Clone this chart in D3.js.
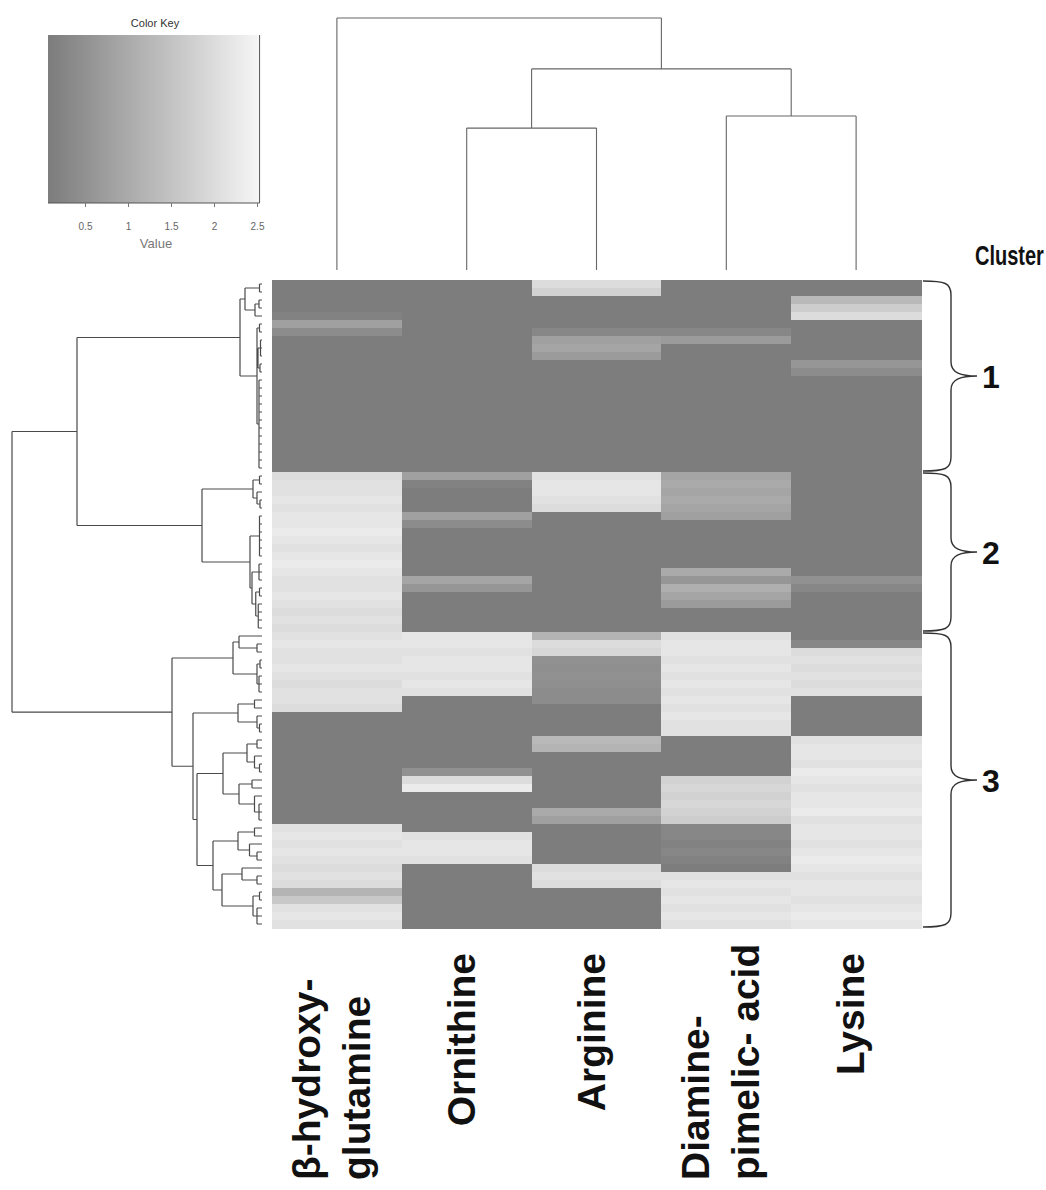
<!DOCTYPE html>
<html><head><meta charset="utf-8">
<script src="https://cdn.jsdelivr.net/npm/d3@7"></script>
<style>body{margin:0;background:#fff}</style>
</head><body>
<svg id="chart" width="1046" height="1190"></svg>
<script>
// ---------- DATA ----------
const columns = ["β-hydroxy-glutamine", "Ornithine", "Arginine", "Diamine-pimelic-acid", "Lysine"];
const columnLabelLines = [["β-hydroxy-", "glutamine"], ["Ornithine"], ["Arginine"], ["Diamine-", "pimelic- acid"], ["Lysine"]];

// one value per heatmap row (81 rows, top to bottom), per column
const betaHydroxyGlutamine = [
  0.1,0.1,0.1,0.1,0.2, 0.8,0.4, 0.1,0.1,0.1,0.1,0.1,0.1,0.1,0.1,0.1,0.1,0.1,0.1,0.1,0.1,0.1,0.1,0.1,
  2.0,2.1,2.1,2.2,2.1,2.2,2.2,2.3,2.2,2.1,2.2,2.3,2.2,2.1,2.1,2.2,2.1,2.0,2.1,2.0,
  2.1,2.2,2.1,2.1,2.2,2.1,2.0,2.1,2.1,2.0,
  0.1,0.1,0.1,0.1,0.1,0.1,0.1,0.1,0.1,0.1,0.1,0.1,0.1,0.1,
  2.1,2.2,2.1,2.2,2.1,2.0,2.1,2.0,1.2,1.6,2.1,2.2,2.1];
const ornithine = [
  0.1,0.1,0.1,0.1,0.1,0.1,0.1,0.1,0.1,0.1,0.1,0.1,0.1,0.1,0.1,0.1,0.1,0.1,0.1,0.1,0.1,0.1,0.1,0.1,
  0.8,0.2,0.1,0.1,0.1,0.8,0.4,0.1,0.1,0.1,0.1,0.1,0.1,0.9,0.6,0.1,0.1,0.1,0.1,0.1,
  2.2,2.2,2.1,2.2,2.2,2.1,2.2,2.1,
  0.1,0.1,0.1,0.1,0.1,0.1,0.1,0.1,0.1, 0.5, 2.0, 2.3,
  0.1,0.1,0.1,0.1,0.1, 2.1,2.2,2.2,2.1,
  0.1,0.1,0.1,0.1,0.1,0.1,0.1,0.1];
const arginine = [
  2.0,1.8,0.1,0.1,0.1,0.1,0.3,0.8,0.9,0.7, 0.1,0.1,0.1,0.1,0.1,0.1,0.1,0.1,0.1,0.1,0.1,0.1,0.1,0.1,
  2.1,2.2,2.2,2.1,2.0, 0.1,0.1,0.1,0.1,0.1,0.1,0.1,0.1,0.1,0.1,0.1,0.1,0.1,0.1,0.1,
  1.2,2.0,1.9, 0.5,0.45,0.5,0.45,0.4,0.4, 0.1,0.1,0.1,0.1, 1.3,1.2,
  0.1,0.1,0.1,0.1,0.1,0.1,0.1, 1.0,0.8, 0.1,0.1,0.1,0.1,0.1, 2.0,2.1,2.0, 0.1,0.1,0.1,0.1,0.1];
const diaminopimelicAcid = [
  0.1,0.1,0.1,0.1,0.1,0.1, 0.3,0.7, 0.1,0.1,0.1,0.1,0.1,0.1,0.1,0.1,0.1,0.1,0.1,0.1,0.1,0.1,0.1,0.1,
  0.9,1.0,0.9,1.0,0.9,0.8, 0.1,0.1,0.1,0.1,0.1,0.1, 1.0,0.6,1.1,0.9,0.7, 0.1,0.1,0.1,
  2.1,2.2,2.2,2.1,2.2,2.1,2.2,2.1,2.2,2.1,2.2,2.1,2.1,
  0.1,0.1,0.1,0.1,0.1, 1.8,1.9,1.8,1.9,1.8,1.7,
  0.3,0.3,0.2,0.3,0.2,0.1, 2.1,2.2,2.1,2.2,2.1,2.2,2.1];
const lysine = [
  0.1,0.1,1.3,1.7,2.0,0.1,0.1,0.1,0.1,0.1,0.6,0.4, 0.1,0.1,0.1,0.1,0.1,0.1,0.1,0.1,0.1,0.1,0.1,0.1,
  0.1,0.1,0.1,0.1,0.1,0.1,0.1,0.1,0.1,0.1,0.1,0.1,0.1, 0.5,0.3, 0.1,0.1,0.1,0.1,0.1,
  0.1,0.3, 2.0,2.1,2.0,2.1,2.0,2.1, 0.1,0.1,0.1,0.1,0.1,
  2.1,2.2,2.2,2.1,2.3,2.2,2.1,2.2,2.2,2.3,2.1,2.2,2.2,2.1,2.2,2.3,2.2,2.1,2.2,2.2,2.1,2.2,2.3,2.2];
const seriesValues = [betaHydroxyGlutamine, ornithine, arginine, diaminopimelicAcid, lysine];

// dendrograms: [height, child, child, ...]; numbers are leaves (row / column index)
const columnTree = [10, 0, [7.98, [5.63, 1, 2], [6.11, 3, 4]]];
const rowTree = [10,
  [7.4,
    [0.88,
      [0.68, [0.1, 0, 1], [0.28, [0.12, 2, 3], 4]],
      [0.2, [0.1, 5, 6], [0.16, [0.06, 7, 8, 9], [0.08, 10, 11]], [0.12, 12, 13, 14, 15, 16, 17, 18, 19, 20, 21, 22, 23]]],
    [2.4,
      [0.36, [0.1, 24, 25], [0.2, 26, [0.08, 27, 28]]],
      [0.48, [0.1, 29, 30, 31, 32, 33, 34], [0.4, [0.12, 35, 36, 37], [0.25, [0.1, 38, 39], [0.15, 40, 41, 42, 43]]]]]],
  [3.6,
    [1.16, [0.92, 44, [0.2, 45, 46]], [0.2, [0.08, 47, 48], [0.12, 49, 50, 51]]],
    [2.76,
      [0.96, [0.3, 52, 53], [0.2, 54, [0.1, 55, 56]]],
      [2.6,
        [1.56, [0.6, [0.2, 57, 58], [0.3, 59, [0.1, 60, 61]]], [0.92, [0.4, 62, 63], [0.3, 64, [0.12, 65, 66, 67]]]],
        [1.96, [0.96, [0.3, 68, 69], [0.5, 70, [0.2, 71, 72]]], [1.6, [0.8, 73, [0.2, 74, 75]], [0.36, [0.1, 76, 77], [0.2, 78, 79, 80]]]]]]]];

const clusterNames = ["1", "2", "3"];
const clusterFirstRow = [0, 24, 44];
const clusterLastRow = [23, 43, 80];

const keyRange = [0.07, 2.53];
const keyTicks = [0.5, 1, 1.5, 2, 2.5];

// ---------- CHART ----------
const svg = d3.select("#chart");
const FONT = "'Liberation Sans', Arial, Helvetica, sans-serif";
const nRows = betaHydroxyGlutamine.length;

const color = d3.scaleLinear().domain(keyRange).range(["#7c7c7c", "#f6f6f6"]).interpolate(d3.interpolateRgb);

const xBand = d3.scaleBand().domain(d3.range(columns.length)).range([272, 921]);
const yBand = d3.scaleBand().domain(d3.range(nRows)).range([280, 928]);

// heatmap cells
const cells = [];
seriesValues.forEach((arr, c) => arr.forEach((v, r) => cells.push({c, r, v})));
svg.append("g").selectAll("rect").data(cells).join("rect")
  .attr("x", d => xBand(d.c)).attr("y", d => yBand(d.r))
  .attr("width", xBand.bandwidth() + 0.5).attr("height", yBand.bandwidth() + 0.5)
  .attr("fill", d => color(d.v)).attr("shape-rendering", "crispEdges");

// helpers for trees
function build(n) {
  if (typeof n === "number") return {leaf: n, h: 0};
  return {h: n[0], children: n.slice(1).map(build)};
}

// row dendrogram
const rowRoot = d3.hierarchy(build(rowTree));
const hx = d3.scaleLinear().domain([0, 10]).range([262, 12]);
rowRoot.eachAfter(n => {
  if (!n.children) n.pos = yBand(n.data.leaf) + yBand.bandwidth() / 2;
  else n.pos = (n.children[0].pos + n.children[n.children.length - 1].pos) / 2;
});
const rowPath = d3.path();
rowRoot.each(n => {
  if (!n.children) return;
  const x = hx(n.data.h);
  rowPath.moveTo(x, n.children[0].pos); rowPath.lineTo(x, n.children[n.children.length - 1].pos);
  n.children.forEach(ch => { rowPath.moveTo(x, ch.pos); rowPath.lineTo(hx(ch.data.h), ch.pos); });
});
svg.append("path").attr("d", rowPath.toString()).attr("fill", "none")
  .attr("stroke", "#4a4a4a").attr("stroke-width", 1.2);

// column dendrogram
const colRoot = d3.hierarchy(build(columnTree));
const hy = d3.scaleLinear().domain([0, 10]).range([270, 18]);
colRoot.eachAfter(n => {
  if (!n.children) n.pos = xBand(n.data.leaf) + xBand.bandwidth() / 2;
  else n.pos = (n.children[0].pos + n.children[n.children.length - 1].pos) / 2;
});
const colPath = d3.path();
colRoot.each(n => {
  if (!n.children) return;
  const y = hy(n.data.h);
  colPath.moveTo(n.children[0].pos, y); colPath.lineTo(n.children[n.children.length - 1].pos, y);
  n.children.forEach(ch => { colPath.moveTo(ch.pos, y); colPath.lineTo(ch.pos, hy(ch.data.h)); });
});
svg.append("path").attr("d", colPath.toString()).attr("fill", "none")
  .attr("stroke", "#666").attr("stroke-width", 1.1);

// column labels
const labG = svg.append("g").attr("font-family", FONT).attr("font-weight", "bold")
  .attr("font-size", 39).attr("fill", "#111");
columnLabelLines.forEach((lines, c) => {
  const cx = xBand(c) + xBand.bandwidth() / 2;
  const n = lines.length;
  lines.forEach((t, i) => {
    const bx = cx + 8 + (i - (n - 1) / 2) * 50;
    const yA = n === 1 ? 953 : 1180;
    labG.append("text").attr("transform", `translate(${bx},${yA}) rotate(-90)`)
      .attr("text-anchor", n === 1 ? "end" : "start").text(t);
  });
});

// cluster braces
const braceG = svg.append("g");
clusterNames.forEach((name, k) => {
  const y0 = yBand(clusterFirstRow[k]) + 1;
  const y1 = yBand(clusterLastRow[k]) + yBand.bandwidth() - 1;
  const ym = (y0 + y1) / 2;
  const x0 = 923, xs = 951, xt = 977;
  const p = d3.path();
  p.moveTo(x0, y0);
  p.bezierCurveTo(x0 + 22, y0, xs, y0 + 2, xs, y0 + 14);
  p.lineTo(xs, ym - 14);
  p.bezierCurveTo(xs, ym - 3, xs + 10, ym, xt, ym);
  p.moveTo(xt, ym);
  p.bezierCurveTo(xs + 10, ym, xs, ym + 3, xs, ym + 14);
  p.lineTo(xs, y1 - 14);
  p.bezierCurveTo(xs, y1 - 2, x0 + 22, y1, x0, y1);
  braceG.append("path").attr("d", p.toString()).attr("fill", "none")
    .attr("stroke", "#333").attr("stroke-width", 1.4);
  braceG.append("text").attr("x", 982).attr("y", ym + 12)
    .attr("font-family", FONT).attr("font-weight", "bold").attr("font-size", 32)
    .attr("fill", "#111").text(name);
});
svg.append("text").attr("transform", "translate(975,265) scale(1,1.4)")
  .attr("font-family", FONT).attr("font-weight", "bold").attr("font-size", 20)
  .attr("fill", "#111").text("Cluster");

// color key
const kx = d3.scaleLinear().domain([0.5, 2.5]).range([85, 257]);
const defs = svg.append("defs");
const grad = defs.append("linearGradient").attr("id", "keyGrad");
d3.range(0, 1.0001, 0.1).forEach(t => {
  grad.append("stop").attr("offset", t).attr("stop-color", color(keyRange[0] + t * (keyRange[1] - keyRange[0])));
});
svg.append("rect").attr("x", kx(keyRange[0])).attr("y", 35)
  .attr("width", kx(keyRange[1]) - kx(keyRange[0])).attr("height", 168)
  .attr("fill", "url(#keyGrad)");
svg.append("path")
  .attr("d", `M${kx(keyRange[0])},203 H${kx(keyRange[1])} V35`)
  .attr("fill", "none").attr("stroke", "#555").attr("stroke-width", 1);
const kAxis = svg.append("g").attr("transform", "translate(0,203)")
  .call(d3.axisBottom(kx).tickValues(keyTicks).tickSize(4).tickPadding(16).tickFormat(d3.format("")));
kAxis.select(".domain").remove();
kAxis.selectAll("line").attr("stroke", "#777");
kAxis.selectAll("text").attr("font-family", FONT).attr("font-size", 10).attr("fill", "#666");
svg.append("text").attr("x", 156).attr("y", 248).attr("text-anchor", "middle")
  .attr("font-family", FONT).attr("font-size", 13).attr("fill", "#777").text("Value");
svg.append("text").attr("x", 155).attr("y", 27).attr("text-anchor", "middle")
  .attr("font-family", FONT).attr("font-size", 11).attr("fill", "#333").text("Color Key");
</script>
</body></html>
